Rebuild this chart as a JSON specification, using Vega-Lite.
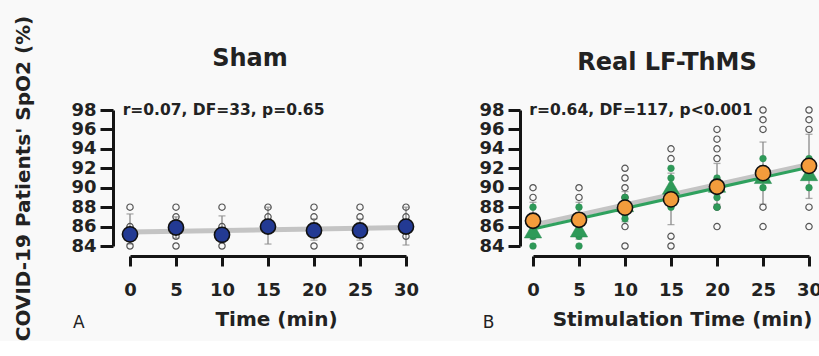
{
  "$schema": "https://vega.github.io/schema/vega-lite/v6.json",
  "background": "#f9f9f9",
  "padding": {"left": 13, "top": 15, "right": 0, "bottom": 0},
  "bounds": "flush",
  "spacing": 127,
  "config": {
    "view": {"stroke": null},
    "font": "DejaVu Sans",
    "axis": {
      "grid": false,
      "labelOverlap": false,
      "labelFlush": false,
      "labelBound": false,
      "domainColor": "#151515",
      "domainWidth": 3,
      "tickColor": "#151515",
      "tickWidth": 3,
      "labelFont": "DejaVu Sans",
      "labelFontSize": 18,
      "labelFontWeight": "bold",
      "labelColor": "#222",
      "titleFont": "DejaVu Sans",
      "titleFontSize": 20,
      "titleFontWeight": "bold",
      "titleColor": "#222"
    },
    "title": {"font": "DejaVu Sans", "fontSize": 24, "fontWeight": "bold", "color": "#222"}
  },
  "datasets": {
    "shamMean": [
      {"time": 0, "mean": 85.2, "lo": 84.2, "hi": 87.3},
      {"time": 5, "mean": 85.9, "lo": 84.8, "hi": 87.0},
      {"time": 10, "mean": 85.15, "lo": 84.4, "hi": 87.1},
      {"time": 15, "mean": 86.0, "lo": 84.2, "hi": 88.0},
      {"time": 20, "mean": 85.6, "lo": 84.6, "hi": 86.8},
      {"time": 25, "mean": 85.6, "lo": 84.6, "hi": 86.8},
      {"time": 30, "mean": 86.0, "lo": 84.1, "hi": 88.0}
    ],
    "shamPts": [
      {"time": 0, "spo2": 88}, {"time": 0, "spo2": 86}, {"time": 0, "spo2": 84},
      {"time": 5, "spo2": 88}, {"time": 5, "spo2": 87}, {"time": 5, "spo2": 85}, {"time": 5, "spo2": 84},
      {"time": 10, "spo2": 88}, {"time": 10, "spo2": 86}, {"time": 10, "spo2": 84},
      {"time": 15, "spo2": 88}, {"time": 15, "spo2": 87},
      {"time": 20, "spo2": 88}, {"time": 20, "spo2": 87}, {"time": 20, "spo2": 86}, {"time": 20, "spo2": 84},
      {"time": 25, "spo2": 88}, {"time": 25, "spo2": 87}, {"time": 25, "spo2": 86}, {"time": 25, "spo2": 84},
      {"time": 30, "spo2": 88}, {"time": 30, "spo2": 87}, {"time": 30, "spo2": 85}
    ],
    "shamFit": [
      {"time": 0, "spo2": 85.45},
      {"time": 30, "spo2": 85.9}
    ],
    "realMean": [
      {"time": 0, "mean": 86.6, "tri": 85.6, "lo": 84.7, "hi": 88.5},
      {"time": 5, "mean": 86.7, "tri": 85.7, "lo": 84.7, "hi": 88.5},
      {"time": 10, "mean": 87.95, "tri": 88.3, "lo": 86.5, "hi": 89.6},
      {"time": 15, "mean": 88.8, "tri": 90.1, "lo": 86.2, "hi": 91.5},
      {"time": 20, "mean": 90.1, "tri": 90.3, "lo": 88.3, "hi": 92.5},
      {"time": 25, "mean": 91.5, "tri": 91.2, "lo": 88.3, "hi": 94.7},
      {"time": 30, "mean": 92.25, "tri": 91.5, "lo": 88.9, "hi": 95.5}
    ],
    "realOpen": [
      {"time": 0, "spo2": 90}, {"time": 0, "spo2": 89},
      {"time": 5, "spo2": 90}, {"time": 5, "spo2": 89},
      {"time": 10, "spo2": 92}, {"time": 10, "spo2": 91}, {"time": 10, "spo2": 90}, {"time": 10, "spo2": 89}, {"time": 10, "spo2": 86}, {"time": 10, "spo2": 84},
      {"time": 15, "spo2": 94}, {"time": 15, "spo2": 93}, {"time": 15, "spo2": 85}, {"time": 15, "spo2": 84},
      {"time": 20, "spo2": 96}, {"time": 20, "spo2": 95}, {"time": 20, "spo2": 94}, {"time": 20, "spo2": 93}, {"time": 20, "spo2": 88}, {"time": 20, "spo2": 86},
      {"time": 25, "spo2": 98}, {"time": 25, "spo2": 97}, {"time": 25, "spo2": 96}, {"time": 25, "spo2": 88}, {"time": 25, "spo2": 86},
      {"time": 30, "spo2": 98}, {"time": 30, "spo2": 97}, {"time": 30, "spo2": 96}, {"time": 30, "spo2": 88}, {"time": 30, "spo2": 86}
    ],
    "realGreen": [
      {"time": 0, "spo2": 88}, {"time": 0, "spo2": 87}, {"time": 0, "spo2": 85}, {"time": 0, "spo2": 84},
      {"time": 5, "spo2": 88}, {"time": 5, "spo2": 87}, {"time": 5, "spo2": 85}, {"time": 5, "spo2": 84},
      {"time": 10, "spo2": 89}, {"time": 10, "spo2": 88.5}, {"time": 10, "spo2": 87.3}, {"time": 10, "spo2": 86.8},
      {"time": 15, "spo2": 92}, {"time": 15, "spo2": 91}, {"time": 15, "spo2": 89}, {"time": 15, "spo2": 88},
      {"time": 20, "spo2": 91}, {"time": 20, "spo2": 90}, {"time": 20, "spo2": 89}, {"time": 20, "spo2": 88},
      {"time": 25, "spo2": 93}, {"time": 25, "spo2": 92}, {"time": 25, "spo2": 90},
      {"time": 30, "spo2": 93}, {"time": 30, "spo2": 92}, {"time": 30, "spo2": 90}
    ],
    "realFit": [
      {"time": 0, "gray": 86.15, "green": 85.75},
      {"time": 30, "gray": 92.4, "green": 92.1}
    ]
  },
  "hconcat": [
    {
      "width": 276,
      "height": 136,
      "title": {"text": "Sham", "dx": -18, "offset": -56},
      "layer": [
        {
          "data": {"name": "shamFit"},
          "mark": {"type": "line", "stroke": "#c4c4c4", "strokeWidth": 5},
          "encoding": {
            "x": {"field": "time", "type": "quantitative", "scale": {"domain": [0, 30], "nice": false},
              "axis": {"values": [0, 5, 10, 15, 20, 25, 30], "tickCount": 7, "offset": 10, "tickSize": 10, "labelPadding": 15, "title": "Time (min)", "titleX": 146, "titlePadding": 10}},
            "y": {"field": "spo2", "type": "quantitative", "scale": {"domain": [84, 98], "nice": false, "zero": false},
              "axis": {"values": [84, 86, 88, 90, 92, 94, 96, 98], "tickCount": 8, "offset": 17, "tickSize": 13, "labelPadding": 4, "title": "COVID-19 Patients' SpO2 (%)", "titlePadding": 37}}
          }
        },
        {
          "data": {"name": "shamMean"},
          "mark": {"type": "rule", "stroke": "#8a8a8a", "strokeWidth": 1.3},
          "encoding": {
            "x": {"field": "time", "type": "quantitative"},
            "y": {"field": "lo", "type": "quantitative"},
            "y2": {"field": "hi"}
          }
        },
        {
          "data": {"name": "shamMean"},
          "mark": {"type": "tick", "color": "#8a8a8a", "thickness": 1.3, "size": 7, "orient": "horizontal"},
          "encoding": {
            "x": {"field": "time", "type": "quantitative"},
            "y": {"field": "lo", "type": "quantitative"}
          }
        },
        {
          "data": {"name": "shamMean"},
          "mark": {"type": "tick", "color": "#8a8a8a", "thickness": 1.3, "size": 7, "orient": "horizontal"},
          "encoding": {
            "x": {"field": "time", "type": "quantitative"},
            "y": {"field": "hi", "type": "quantitative"}
          }
        },
        {
          "data": {"name": "shamPts"},
          "mark": {"type": "point", "filled": false, "stroke": "#555", "strokeWidth": 1.2, "size": 40, "opacity": 1},
          "encoding": {
            "x": {"field": "time", "type": "quantitative"},
            "y": {"field": "spo2", "type": "quantitative"}
          }
        },
        {
          "data": {"name": "shamMean"},
          "mark": {"type": "point", "filled": true, "fill": "#233a93", "stroke": "#111", "strokeWidth": 1.6, "size": 230, "opacity": 1},
          "encoding": {
            "x": {"field": "time", "type": "quantitative"},
            "y": {"field": "mean", "type": "quantitative"}
          }
        },
        {
          "data": {"values": [{"label": "r=0.07, DF=33, p=0.65"}]},
          "mark": {"type": "text", "align": "left", "baseline": "middle", "fontSize": 15.5, "fontWeight": "bold", "color": "#222"},
          "encoding": {
            "x": {"datum": -0.8},
            "y": {"datum": 98},
            "text": {"field": "label"}
          }
        },
        {
          "data": {"values": [{"label": "A"}]},
          "mark": {"type": "text", "align": "left", "baseline": "alphabetic", "fontSize": 17, "color": "#222"},
          "encoding": {
            "x": {"datum": -6.2},
            "y": {"datum": 75.6},
            "text": {"field": "label"}
          }
        }
      ]
    },
    {
      "width": 276,
      "height": 136,
      "title": {"text": "Real LF-ThMS", "dx": -4, "offset": 26},
      "layer": [
        {
          "data": {"name": "realFit"},
          "mark": {"type": "line", "stroke": "#c4c4c4", "strokeWidth": 5},
          "encoding": {
            "x": {"field": "time", "type": "quantitative", "scale": {"domain": [0, 30], "nice": false},
              "axis": {"values": [0, 5, 10, 15, 20, 25, 30], "tickCount": 7, "offset": 10, "tickSize": 10, "labelPadding": 15, "title": "Stimulation Time (min)", "titleX": 149, "titlePadding": 10}},
            "y": {"field": "gray", "type": "quantitative", "scale": {"domain": [84, 98], "nice": false, "zero": false},
              "axis": {"values": [84, 86, 88, 90, 92, 94, 96, 98], "tickCount": 8, "offset": 13, "tickSize": 12, "labelPadding": 4, "title": null}}
          }
        },
        {
          "data": {"name": "realFit"},
          "mark": {"type": "line", "stroke": "#2fa15e", "strokeWidth": 3},
          "encoding": {
            "x": {"field": "time", "type": "quantitative"},
            "y": {"field": "green", "type": "quantitative"}
          }
        },
        {
          "data": {"name": "realMean"},
          "mark": {"type": "rule", "stroke": "#8a8a8a", "strokeWidth": 1.3},
          "encoding": {
            "x": {"field": "time", "type": "quantitative"},
            "y": {"field": "lo", "type": "quantitative"},
            "y2": {"field": "hi"}
          }
        },
        {
          "data": {"name": "realMean"},
          "mark": {"type": "tick", "color": "#8a8a8a", "thickness": 1.3, "size": 7, "orient": "horizontal"},
          "encoding": {
            "x": {"field": "time", "type": "quantitative"},
            "y": {"field": "lo", "type": "quantitative"}
          }
        },
        {
          "data": {"name": "realMean"},
          "mark": {"type": "tick", "color": "#8a8a8a", "thickness": 1.3, "size": 7, "orient": "horizontal"},
          "encoding": {
            "x": {"field": "time", "type": "quantitative"},
            "y": {"field": "hi", "type": "quantitative"}
          }
        },
        {
          "data": {"name": "realOpen"},
          "mark": {"type": "point", "filled": false, "stroke": "#555", "strokeWidth": 1.2, "size": 40, "opacity": 1},
          "encoding": {
            "x": {"field": "time", "type": "quantitative"},
            "y": {"field": "spo2", "type": "quantitative"}
          }
        },
        {
          "data": {"name": "realGreen"},
          "mark": {"type": "point", "filled": true, "fill": "#2e9a58", "stroke": "#2a8a50", "strokeWidth": 0.5, "size": 45, "opacity": 1},
          "encoding": {
            "x": {"field": "time", "type": "quantitative"},
            "y": {"field": "spo2", "type": "quantitative"}
          }
        },
        {
          "data": {"name": "realMean"},
          "mark": {"type": "point", "shape": "triangle-up", "filled": true, "fill": "#2e9a58", "stroke": "#2a8a50", "strokeWidth": 0.5, "size": 300, "opacity": 1},
          "encoding": {
            "x": {"field": "time", "type": "quantitative"},
            "y": {"field": "tri", "type": "quantitative"}
          }
        },
        {
          "data": {"name": "realMean"},
          "mark": {"type": "point", "filled": true, "fill": "#f39c3c", "stroke": "#111", "strokeWidth": 1.6, "size": 230, "opacity": 1},
          "encoding": {
            "x": {"field": "time", "type": "quantitative"},
            "y": {"field": "mean", "type": "quantitative"}
          }
        },
        {
          "data": {"values": [{"label": "r=0.64, DF=117, p<0.001"}]},
          "mark": {"type": "text", "align": "left", "baseline": "middle", "fontSize": 15.5, "fontWeight": "bold", "color": "#222"},
          "encoding": {
            "x": {"datum": -0.4},
            "y": {"datum": 98},
            "text": {"field": "label"}
          }
        },
        {
          "data": {"values": [{"label": "B"}]},
          "mark": {"type": "text", "align": "left", "baseline": "alphabetic", "fontSize": 17, "color": "#222"},
          "encoding": {
            "x": {"datum": -5.45},
            "y": {"datum": 75.6},
            "text": {"field": "label"}
          }
        }
      ]
    }
  ]
}
